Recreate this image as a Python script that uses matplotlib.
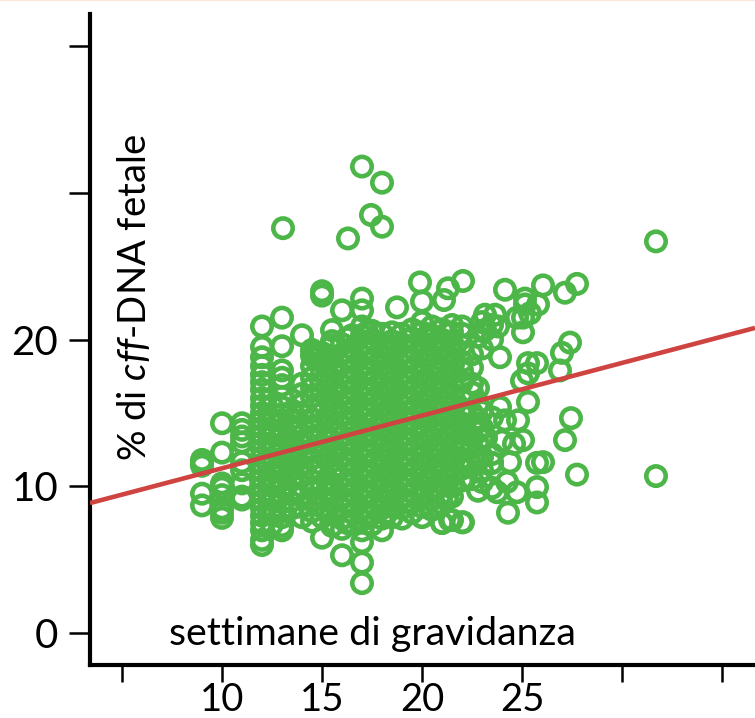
import numpy as np
from matplotlib import pyplot as plt
from matplotlib.lines import Line2D

# Setup
green = "#4cb648"
red = "#cf4440"
plt.rcParams["font.family"] = ["Lato", "DejaVu Sans"]
plt.rcParams["mathtext.fontset"] = "custom"
plt.rcParams["mathtext.rm"] = "Lato"
plt.rcParams["mathtext.it"] = "Lato:italic"

# Data: columns of the dense part
pct_09 = [11.4, 11.6, 11.8, 9.5, 8.7]
pct_10 = [14.3, 12.3, 10.2, 9.9, 9.4, 8.5, 8.2, 7.85]
pct_11 = [14.3, 13.85, 13.4, 13.0, 11.65, 11.1, 10.2, 9.3, 9.1]
pct_12 = [6.0, 6.35, 7.0, 7.5, 8.0, 8.5, 9.0, 9.5, 10.0, 10.5, 11.0, 11.5, 12.0, 12.5, 13.0, 13.5,
          14.0, 14.5, 15.0, 15.5, 16.0, 16.6, 17.1, 17.6, 18.2, 18.8, 19.5, 20.9]
pct_125 = [7.4, 8.3, 9.2, 10.1, 11.0, 11.9, 12.8, 13.7, 14.6, 15.5]
pct_13 = [7.0, 7.3, 7.9, 8.4, 8.9, 9.4, 9.9, 10.4, 10.9, 11.4, 11.9, 12.4, 12.9, 13.4, 13.9, 14.4,
          14.9, 15.4, 16.1, 16.9, 17.4, 17.9, 19.55, 21.5]
pct_135 = [8.5, 9.6, 10.6, 11.2, 12.1, 12.6, 13.1, 14.1, 14.6, 15.1]
pct_140 = [7.9, 8.6, 9.3, 10.0, 10.7, 11.4, 12.1, 12.8, 13.5, 14.2, 14.9, 15.6, 16.3, 17.0, 20.3]
pct_145 = [7.6, 8.3, 9.1, 9.8, 10.4, 11.2, 11.9, 12.5, 13.3, 14.0, 14.6, 15.3, 16.1, 16.7, 17.4, 18.2, 18.9, 19.3]
pct_150 = [6.5, 7.9, 8.6, 9.3, 10.0, 10.8, 11.5, 12.2, 12.8, 13.6, 14.3, 15.0, 15.7, 16.4, 17.1, 17.8, 18.5, 19.1, 23.0, 23.3]
pct_152 = [8.3, 9.6, 10.4, 11.9, 13.2, 14.7, 16.0, 17.4, 18.9]
pct_155 = [7.3, 8.1, 8.9, 9.6, 10.2, 11.0, 11.7, 12.4, 13.1, 13.8, 14.5, 15.2, 15.9, 16.6, 17.3, 18.0, 18.8, 19.6, 20.65]
pct_160 = [5.3, 7.1, 7.8, 8.5, 9.2, 9.9, 10.6, 11.3, 12.0, 12.7, 13.4, 14.1, 14.8, 15.5, 16.2, 16.9, 17.6, 18.3, 19.0, 19.7, 22.0]
pct_162 = [7.5, 8.9, 10.3, 11.6, 13.0, 14.5, 15.8, 17.3, 18.7, 20.1]
pct_165 = [7.5, 8.2, 8.9, 9.6, 10.3, 11.0, 11.7, 12.4, 13.1, 13.8, 14.5, 15.2, 15.9, 16.6, 17.3, 18.0, 18.7, 19.4, 20.3]
pct_170 = [3.4, 4.8, 6.2, 7.0, 7.7, 8.4, 9.1, 9.8, 10.5, 11.2, 11.9, 12.6, 13.3, 14.0, 14.7, 15.4, 16.1, 16.8, 17.5, 18.2, 18.9, 19.6, 20.3, 20.9, 22.0, 22.8]
pct_172 = [8.0, 9.4, 10.9, 12.2, 13.6, 15.0, 16.4, 17.8, 19.2, 20.5]
pct_175 = [7.4, 8.1, 8.8, 9.5, 10.2, 10.9, 11.6, 12.3, 13.0, 13.7, 14.4, 15.1, 15.8, 16.5, 17.2, 17.9, 18.6, 19.3, 20.0, 20.6]
pct_180 = [7.0, 7.8, 8.5, 9.2, 9.9, 10.6, 11.3, 12.0, 12.7, 13.4, 14.1, 14.8, 15.5, 16.2, 16.9, 17.6, 18.3, 19.0, 19.7, 20.4]
pct_182 = [8.2, 9.6, 11.0, 12.4, 13.8, 15.2, 16.6, 18.0, 19.4]
pct_185 = [7.9, 8.7, 9.4, 10.1, 10.8, 11.5, 12.2, 12.9, 13.6, 14.3, 15.0, 15.7, 16.4, 17.1, 17.8, 18.5, 19.2, 19.9, 20.5]
pct_190 = [7.8, 8.5, 9.2, 9.9, 10.6, 11.3, 12.0, 12.7, 13.4, 14.1, 14.8, 15.5, 16.2, 16.9, 17.6, 18.3, 19.0, 19.7, 20.4]
pct_192 = [8.9, 10.2, 11.6, 13.0, 14.4, 15.8, 17.2, 18.6, 20.0]
pct_195 = [8.2, 8.9, 9.6, 10.3, 11.0, 11.7, 12.4, 13.1, 13.8, 14.5, 15.2, 15.9, 16.6, 17.3, 18.0, 18.7, 19.4, 20.1, 20.7]
pct_200 = [7.9, 8.6, 9.3, 10.0, 10.7, 11.4, 12.1, 12.8, 13.5, 14.2, 14.9, 15.6, 16.3, 17.0, 17.7, 18.4, 19.1, 19.8, 20.5, 21.2]
pct_202 = [8.8, 10.4, 11.7, 13.1, 14.6, 16.0, 17.3, 18.8, 20.2]
pct_205 = [8.4, 9.1, 9.8, 10.5, 11.2, 11.9, 12.6, 13.3, 14.0, 14.7, 15.4, 16.1, 16.8, 17.5, 18.2, 18.9, 19.6, 20.3, 20.9]
pct_210 = [7.5, 8.8, 9.5, 10.2, 10.9, 11.6, 12.3, 13.0, 13.7, 14.4, 15.1, 15.8, 16.5, 17.2, 17.9, 18.6, 19.3, 20.0, 20.7]
pct_212 = [9.2, 10.6, 12.0, 13.4, 14.8, 16.2, 17.6, 19.0, 20.4]
pct_215 = [7.7, 9.3, 10.0, 10.7, 11.4, 12.1, 12.8, 13.5, 14.2, 14.9, 15.6, 16.3, 17.0, 17.7, 18.4, 19.1, 19.8, 20.5, 21.0]
pct_220 = [7.55, 10.4, 11.2, 11.9, 12.8, 13.6, 14.3, 15.1, 16.0, 17.1, 17.9, 18.5, 19.6, 20.4, 20.9]
pct_225 = [10.5, 11.4, 12.6, 13.4, 14.2, 15.0, 16.4, 17.0, 18.1, 19.0]
pct_228 = [9.7, 11.8, 12.9, 13.7, 14.6, 15.6, 16.7, 20.2]
pct_230 = [10.3, 11.1, 12.0, 13.2, 14.0, 15.1, 19.4, 20.6, 21.2]
pct_235 = [9.9, 11.6, 12.2, 14.7, 20.0, 21.0]

week_cols = [9, 10, 11, 12, 12.5, 13, 13.5, 14, 14.5, 15, 15.25, 15.5, 16, 16.25, 16.5, 17, 17.25, 17.5, 18, 18.25,
             18.5, 19, 19.25, 19.5, 20, 20.25, 20.5, 21, 21.25, 21.5, 22, 22.5, 22.8, 23, 23.5]
pct_cols = [pct_09, pct_10, pct_11, pct_12, pct_125, pct_13, pct_135, pct_140, pct_145, pct_150, pct_152, pct_155,
            pct_160, pct_162, pct_165, pct_170, pct_172, pct_175, pct_180, pct_182, pct_185, pct_190, pct_192,
            pct_195, pct_200, pct_202, pct_205, pct_210, pct_212, pct_215, pct_220, pct_225, pct_228, pct_230, pct_235]

# single points around the cloud
week_rest = [17.0, 18.0, 17.45, 18.0, 16.3, 13.05, 31.7, 31.7,
             19.9, 20.0, 18.75, 21.3, 22.05, 21.1, 24.15, 26.05, 27.15, 27.75, 25.15, 25.8, 25.05,
             23.9, 27.4, 27.0, 26.9, 25.3, 25.75, 25.3, 25.0, 25.3, 27.45, 27.15, 27.75, 26.05, 25.75,
             25.05, 24.8, 24.15, 23.9, 24.4, 23.5, 24.25, 23.75, 24.75, 25.75, 25.75, 24.3, 22.05, 21.4, 21.0,
             23.15, 23.65, 23.8, 23.15, 25.05, 24.75, 25.4, 25.15, 14.65, 14.7, 15.5, 24.0, 23.2, 24.6]
pct_rest = [31.8, 30.7, 28.5, 27.7, 26.9, 27.6, 26.7, 10.7,
            23.9, 22.6, 22.2, 23.5, 24.0, 22.7, 23.4, 23.7, 23.2, 23.8, 22.8, 22.4, 20.5,
            18.8, 19.8, 19.1, 17.9, 18.4, 18.4, 17.7, 17.2, 15.75, 14.65, 13.15, 10.8, 11.65, 11.6,
            13.15, 14.5, 14.5, 15.4, 11.65, 11.6, 10.3, 9.6, 9.6, 9.95, 8.9, 8.2, 7.55, 7.7, 7.5,
            21.7, 21.7, 20.9, 20.65, 21.5, 21.5, 21.8, 22.4, 19.1, 18.7, 19.9, 13.1, 13.3, 12.9]

line_week = [3.4, 36.65]
line_pct = [8.86, 20.8]

x_ticks = [5, 10, 15, 20, 25, 30, 35]
x_labels = ["", "10", "15", "20", "25", "", ""]
y_ticks = [0, 10, 20, 30, 40]
y_labels = ["0", "10", "20", "", ""]

# Plot
fig = plt.figure(figsize=(7.55, 7.18), dpi=100)
ax = fig.add_axes([90/755, 1-665/718, (755-90)/755, (665-14)/718])
ax.set_xlim(3.4, 36.65)
ax.set_ylim(-2.18, 42.2)

weeks = np.concatenate([np.full(len(p), w, dtype=float) for w, p in zip(week_cols, pct_cols)] + [week_rest])
pcts = np.concatenate([np.array(p, dtype=float) for p in pct_cols] + [pct_rest])
ax.scatter(weeks, pcts, s=195, facecolors="none", edgecolors=green, linewidths=3.3, clip_on=False, zorder=2)
ax.plot(line_week, line_pct, color=red, lw=3.3, solid_capstyle="butt", zorder=3)

for side in ("top", "right"):
    ax.spines[side].set_visible(False)
ax.spines["left"].set_linewidth(3)
ax.spines["bottom"].set_linewidth(3)
ax.set_xticks(x_ticks, x_labels)
ax.set_yticks(y_ticks, y_labels)
ax.tick_params(axis="x", length=12, width=1.8, labelsize=27.5, pad=0.5)
ax.tick_params(axis="y", length=15, width=1.8, labelsize=29, pad=8)

ax.text(17.5, -0.05, "settimane di gravidanza", fontsize=28.4, ha="center", va="center")
ax.text(5.65, (633-297)/14.67, r"% di $\mathit{cff}$-DNA fetale", fontsize=27.5,
        rotation=90, ha="center", va="center")

# peach strip along the top edge of the picture
fig.add_artist(Line2D([0, 1], [0.9995, 0.9995], color="#fbe5d6", lw=1.5))

plt.savefig("out.png", dpi=100)
